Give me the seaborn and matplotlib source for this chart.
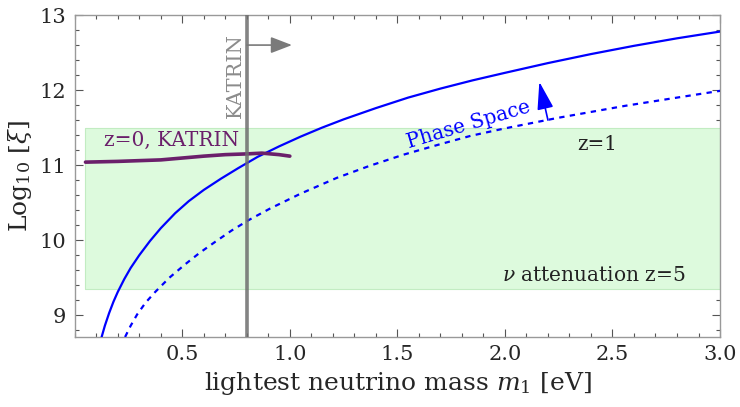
import numpy as np
import pandas as pd
import matplotlib
matplotlib.use("Agg")
import matplotlib.pyplot as plt
import seaborn as sns
from matplotlib.ticker import MultipleLocator

# ---- data ----
solid_m = [0.125, 0.14, 0.16, 0.18, 0.20, 0.23, 0.26, 0.30, 0.35, 0.40, 0.467, 0.53,
           0.60, 0.68, 0.76, 0.85, 0.95, 1.05, 1.15, 1.25, 1.4, 1.55, 1.7, 1.85,
           2.0, 2.2, 2.4, 2.6, 2.8, 3.0]
solid_log = [8.71, 8.86, 9.03, 9.18, 9.31, 9.48, 9.63, 9.80, 9.99, 10.16, 10.36, 10.52,
             10.67, 10.82, 10.96, 11.11, 11.25, 11.38, 11.50, 11.61, 11.76, 11.90, 12.02, 12.13,
             12.23, 12.36, 12.48, 12.59, 12.69, 12.78]

dashed_m = [0.234, 0.26, 0.29, 0.33, 0.374, 0.44, 0.514, 0.58, 0.654, 0.73, 0.81, 0.907,
            1.05, 1.218, 1.37, 1.529, 1.7, 1.84, 2.0, 2.246, 2.558, 2.8, 3.0]
dashed_log = [8.71, 8.86, 9.01, 9.17, 9.31, 9.50, 9.68, 9.83, 9.98, 10.13, 10.27, 10.42,
              10.62, 10.83, 10.99, 11.14, 11.28, 11.39, 11.49, 11.63, 11.79, 11.90, 11.99]

katrin_m = [0.05, 0.2, 0.4, 0.6, 0.7, 0.8, 0.87, 0.95, 1.0]
katrin_log = [11.04, 11.05, 11.07, 11.12, 11.14, 11.15, 11.16, 11.14, 11.12]

band_m = [0.05, 3.0]
band_low = [9.35, 9.35]
band_high = [11.5, 11.5]

katrin_limit = 0.8

solid_df = pd.DataFrame({"m": solid_m, "logxi": solid_log})
dashed_df = pd.DataFrame({"m": dashed_m, "logxi": dashed_log})
katrin_df = pd.DataFrame({"m": katrin_m, "logxi": katrin_log})

# ---- style ----
sns.set_style("ticks")
plt.rcParams["font.family"] = ["DejaVu Serif"]
plt.rcParams["mathtext.fontset"] = "dejavuserif"

fig = plt.figure(figsize=(7.4, 4.07), dpi=100)
ax = fig.add_axes([0.101, 0.172, 0.872, 0.791])

blue = "#0000FF"
purple = "#6B1F6B"

ax.fill_between(band_m, band_low, band_high, color="#DDFADD", edgecolor="#C2ECC2",
                linewidth=0.8, zorder=1)

sns.lineplot(data=solid_df, x="m", y="logxi", ax=ax, color=blue, lw=1.6,
             sort=False, estimator=None, zorder=3)
sns.lineplot(data=dashed_df, x="m", y="logxi", ax=ax, color=blue, lw=1.6,
             sort=False, estimator=None, zorder=3)
ax.lines[-1].set_dashes([2.4, 2.4])
sns.lineplot(data=katrin_df, x="m", y="logxi", ax=ax, color=purple, lw=2.6,
             sort=False, estimator=None, zorder=4)

ax.axvline(katrin_limit, color="#6E6E6E", alpha=0.85, lw=2.6, zorder=5)
ax.annotate("", xy=(1.01, 12.6), xytext=(katrin_limit, 12.6),
            arrowprops=dict(arrowstyle="-|>,head_length=1.3,head_width=0.5",
                            color="#7A7A7A", lw=1.2, shrinkA=0, shrinkB=0), zorder=5)
ax.text(0.745, 12.2, "KATRIN", rotation=90, color="#8C8C8C", fontsize=15,
        ha="center", va="center")

ax.annotate("", xy=(2.16, 12.11), xytext=(2.20, 11.6),
            arrowprops=dict(arrowstyle="-|>,head_length=1.7,head_width=0.5",
                            color=blue, lw=1.2, shrinkA=0, shrinkB=0), zorder=5)
ax.text(1.83, 11.54, "Phase Space", rotation=16.5, color=blue, fontsize=14.3,
        ha="center", va="center", rotation_mode="anchor")
ax.text(0.45, 11.33, "z=0, KATRIN", color=purple, fontsize=14.5, ha="center", va="center")
ax.text(2.43, 11.27, "z=1", color="#222222", fontsize=14.3, ha="center", va="center")
ax.text(2.84, 9.53, r"$\nu$ attenuation z=5", color="#222222", fontsize=14.5,
        ha="right", va="center")

ax.set_xlim(0, 3.0)
ax.set_ylim(8.71, 13)
ax.xaxis.set_major_locator(MultipleLocator(0.5))
ax.xaxis.set_minor_locator(MultipleLocator(0.1))
ax.yaxis.set_major_locator(MultipleLocator(1))
ax.yaxis.set_minor_locator(MultipleLocator(0.2))
ax.set_xticks([0.5, 1.0, 1.5, 2.0, 2.5, 3.0])
ax.set_xticklabels(["0.5", "1.0", "1.5", "2.0", "2.5", "3.0"])
ax.set_yticks([9, 10, 11, 12, 13])
ax.tick_params(which="both", direction="in", top=True, right=True, color="#555555",
               labelsize=15, width=0.8)
ax.tick_params(which="major", length=6, pad=6)
ax.tick_params(which="minor", length=3)
for s in ax.spines.values():
    s.set_color("#999999")
    s.set_linewidth(1.0)

ax.set_xlabel(r"lightest neutrino mass $m_1$ [eV]", fontsize=18, labelpad=4)
ax.set_ylabel(r"Log$_{10}$ [$\xi$]", fontsize=18, labelpad=4)

fig.savefig("out.png", dpi=100)
